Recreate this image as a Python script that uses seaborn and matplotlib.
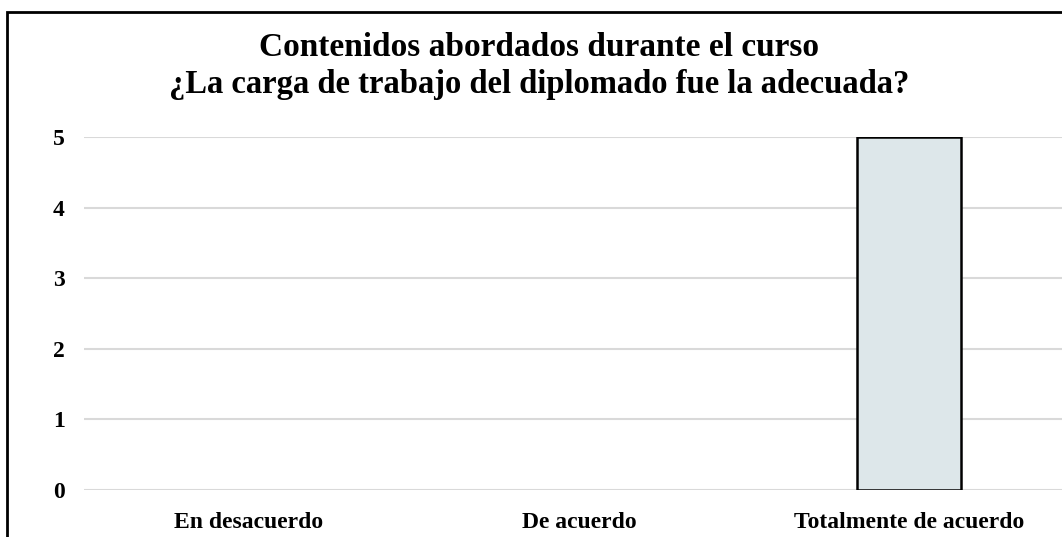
import matplotlib
matplotlib.use("Agg")
import matplotlib.pyplot as plt
from matplotlib.patches import Rectangle
import seaborn as sns
import pandas as pd

categories = ["En desacuerdo", "De acuerdo", "Totalmente de acuerdo"]
counts = [0, 0, 5]
y_ticks = [0, 1, 2, 3, 4, 5]
title_lines = ["Contenidos abordados durante el curso",
               "¿La carga de trabajo del diplomado fue la adecuada?"]

sns.set_theme(style="white")
plt.rcParams["font.family"] = ["Liberation Serif", "DejaVu Serif"]
plt.rcParams["text.color"] = "black"
plt.rcParams["xtick.color"] = "black"
plt.rcParams["ytick.color"] = "black"

W, H = 1062, 537
fig = plt.figure(figsize=(W / 100, H / 100), dpi=100)
ax = fig.add_axes([84 / W, 47 / H, 990 / W, 353 / H])

df = pd.DataFrame({"cat": categories, "n": counts})
sns.barplot(data=df, x="cat", y="n", color="#dde7ea", saturation=1,
            width=0.315, edgecolor="black", linewidth=1.8, ax=ax, zorder=3)
for p, v in zip(ax.patches, counts):
    if v == 0:
        p.set_linewidth(0)

ax.set_ylim(0, 5)
ax.set_yticks(y_ticks)
ax.set_yticklabels([str(t) for t in y_ticks], fontsize=17, fontweight="bold")
ax.set_xticks(range(len(categories)))
ax.set_xticklabels(categories, fontsize=17, fontweight="bold")
ax.tick_params(axis="y", length=0, pad=14)
ax.tick_params(axis="x", length=0, pad=16)
ax.set_xlabel("")
ax.set_ylabel("")
ax.yaxis.grid(True, color="#d9d9d9", linewidth=1.5, zorder=0)
ax.set_axisbelow(True)
for s in ax.spines.values():
    s.set_visible(False)

fig.text(539 / W, 1 - 48 / H, title_lines[0],
         ha="center", va="center", fontsize=24, fontweight="bold")
fig.text(539 / W, 1 - 84 / H, title_lines[1],
         ha="center", va="center", fontsize=23.5, fontweight="bold")

# outer frame of the chart area
fig.add_artist(Rectangle((6.5 / W, -0.1), 1.2, 1 - 11.5 / H + 0.1,
                         transform=fig.transFigure, fill=False,
                         edgecolor="black", linewidth=2))

fig.savefig("out.png", dpi=100)
